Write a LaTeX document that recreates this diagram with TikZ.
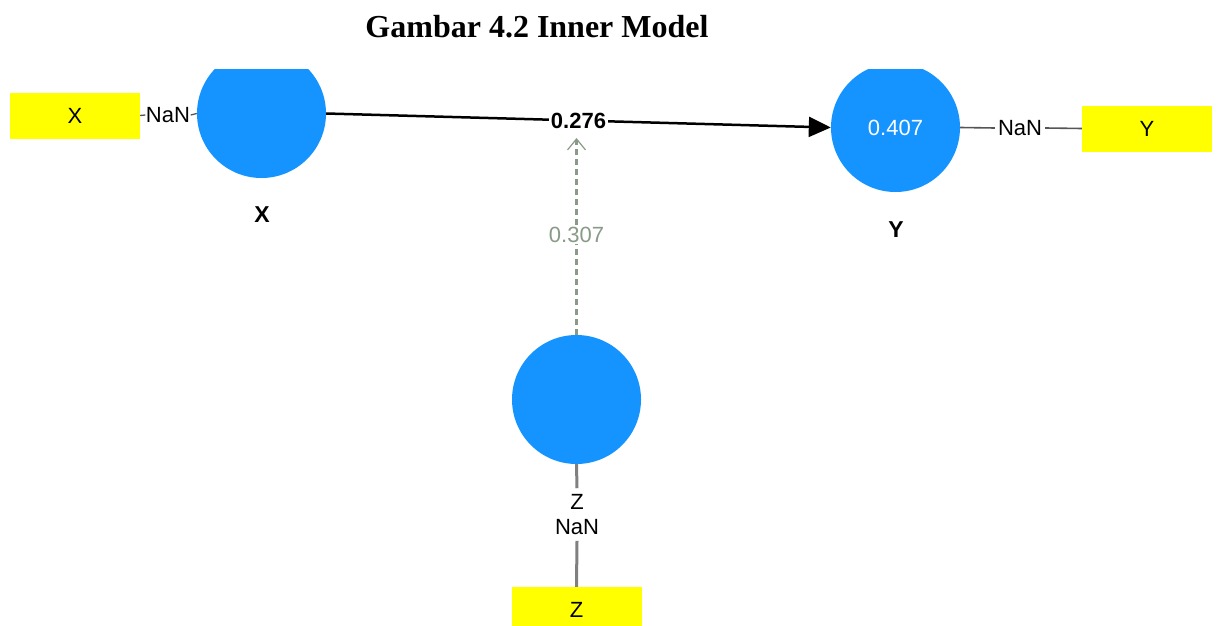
\documentclass[tikz,border=0pt]{standalone}
\usepackage{fontspec}
\setmainfont{Liberation Serif}
\newfontfamily\labelfont{Liberation Sans}
\usetikzlibrary{arrows.meta}
\definecolor{lvblue}{HTML}{1593FF}
\definecolor{mvyellow}{HTML}{FFFF00}
\definecolor{linkgrey}{HTML}{555555}
\definecolor{modgreen}{HTML}{8A9A88}
\tikzset{
  lv/.style={circle, fill=lvblue, minimum size=129pt, inner sep=0pt,
             font=\labelfont\fontsize{22}{25}\selectfont, text=white},
  mv/.style={rectangle, fill=mvyellow, minimum width=130pt, minimum height=46pt,
             inner sep=0pt, font=\labelfont\fontsize{22}{25}\selectfont},
  lvname/.style={font=\labelfont\bfseries\fontsize{23}{26}\selectfont},
  loading/.style={font=\labelfont\fontsize{22}{25}\selectfont, inner sep=2pt},
  pathcoef/.style={font=\labelfont\bfseries\fontsize{22}{25}\selectfont,
                   fill=white, inner sep=2pt},
  modcoef/.style={font=\labelfont\fontsize{22}{25}\selectfont, text=modgreen,
                  fill=white, inner sep=2pt},
}
\begin{document}
\begin{tikzpicture}[x=1pt,y=-1pt]
\useasboundingbox (0,0) rectangle (1218,626);
\fill[white] (0,0) rectangle (1218,626);

% caption above the model
\node[font=\bfseries\fontsize{32}{36}\selectfont] (title) at (537,27) {Gambar 4.2 Inner Model};

\begin{scope}
\clip (0,70) rectangle (1218,626);

% latent variables
\node[lv] (X) at (261.5,113.5) {};
\node[lv] (Y) at (895.5,127.5) {0.407};
\node[lv] (Z) at (576.5,399.5) {};

\node[lvname] (Xname) at (262,215) {X};
\node[lvname] (Yname) at (896,230) {Y};

% indicators
\node[mv] (Xi) at (75,115.5) {X};
\node[mv] (Yi) at (1147,128.5) {Y};
\node[mv] (Zi) at (576.5,610) {Z};

% outer loadings
\node[loading, inner sep=0.5pt] (nanX) at (168,115) {NaN};
\draw[linkgrey, line width=1.3pt] (Xi.east) -- (nanX.west);
\draw[linkgrey, line width=1.3pt] (nanX.east) -- (X.west);

\node[loading, inner sep=3pt] (nanY) at (1020,128) {NaN};
\draw[linkgrey, line width=1.6pt] (Y.east) -- (nanY.west);
\draw[linkgrey, line width=1.6pt] (nanY.east) -- (Yi.west);

\node[loading, inner sep=6pt] (Zname) at (577,502) {Z};
\node[loading, inner sep=6pt] (nanZ) at (577,527) {NaN};
\draw[gray, line width=3pt] (Z.south) -- (Zname.north);
\draw[gray, line width=3pt] (nanZ.south) -- (Zi.north);

% structural path X -> Y
\draw[black, line width=2.5pt, -{Triangle[length=22pt,width=20pt]}]
  (X.east) -- node[pathcoef] (pXY) {0.276} (Y.west);

% moderating effect of Z on the path
\coordinate (modtip) at (576.5,138);
\draw[modgreen, line width=3pt, dash pattern=on 6pt off 4pt,
      -{Straight Barb[length=11pt,width=18pt,line width=1.2pt]}]
  (Z.north) -- node[modcoef, pos=0.51] (pZ) {0.307} (modtip);
\end{scope}
\end{tikzpicture}
\end{document}
